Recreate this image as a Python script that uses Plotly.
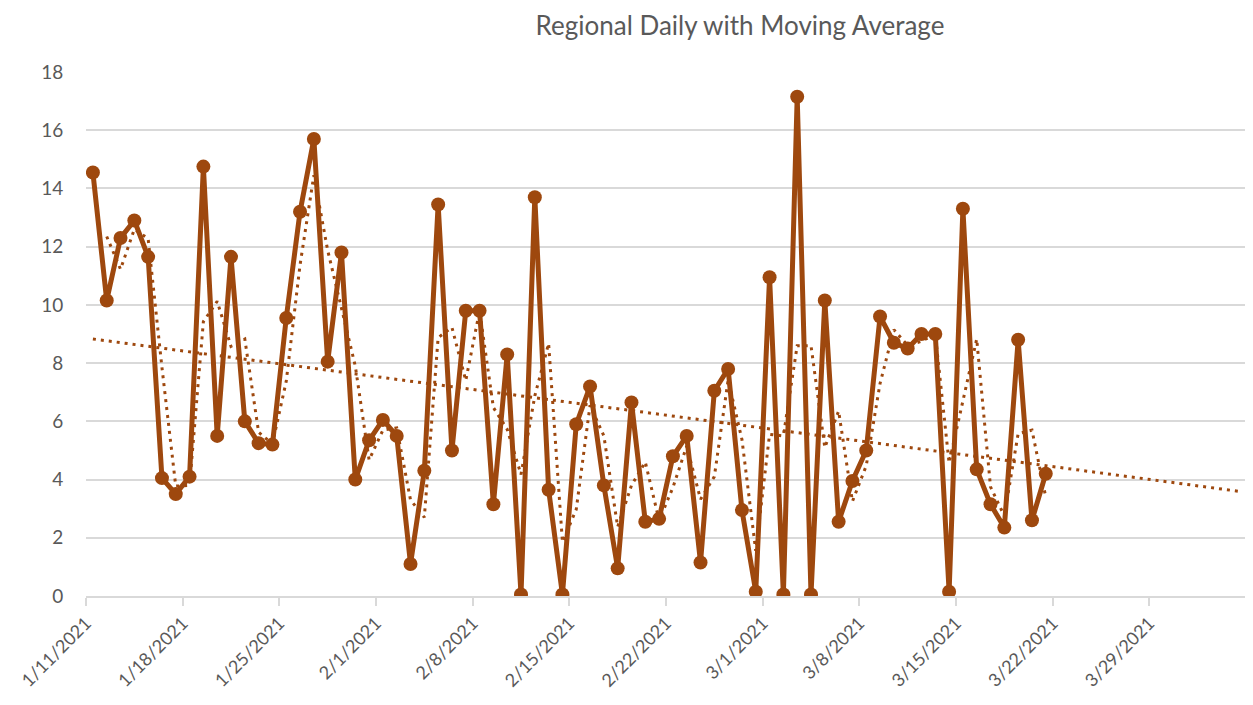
import numpy as np
import pandas as pd
import plotly.graph_objects as go

start_date = "2021-01-11"
values = [14.55, 10.15, 12.3, 12.9, 11.65, 4.05, 3.5, 4.1, 14.75, 5.5,
          11.65, 6.0, 5.25, 5.2, 9.55, 13.2, 15.7, 8.05, 11.8, 4.0,
          5.35, 6.05, 5.5, 1.1, 4.3, 13.45, 5.0, 9.8, 9.8, 3.15,
          8.3, 0.05, 13.7, 3.65, 0.05, 5.9, 7.2, 3.8, 0.95, 6.65,
          2.55, 2.65, 4.8, 5.5, 1.15, 7.05, 7.8, 2.95, 0.15, 10.95,
          0.05, 17.15, 0.05, 10.15, 2.55, 3.95, 5.0, 9.6, 8.7, 8.5,
          9.0, 9.0, 0.15, 13.3, 4.35, 3.15, 2.35, 8.8, 2.6, 4.2]
forecast_days = 14
tick_dates = ["2021-01-11", "2021-01-18", "2021-01-25", "2021-02-01", "2021-02-08",
              "2021-02-15", "2021-02-22", "2021-03-01", "2021-03-08", "2021-03-15",
              "2021-03-22", "2021-03-29"]
tick_labels = ["1/11/2021", "1/18/2021", "1/25/2021", "2/1/2021", "2/8/2021",
               "2/15/2021", "2/22/2021", "3/1/2021", "3/8/2021", "3/15/2021",
               "3/22/2021", "3/29/2021"]

color = "#9E480E"
dates = pd.date_range(start_date, periods=len(values), freq="D") + pd.Timedelta(hours=12)
vals = np.array(values)

# 2-period moving average
ma = pd.Series(vals).rolling(2).mean()

# linear trendline with forward forecast
idx = np.arange(len(vals))
slope, intercept = np.polyfit(idx, vals, 1)
t_idx = np.array([0, len(vals) - 1 + forecast_days])
t_dates = dates[0] + pd.to_timedelta(t_idx, unit="D")
t_vals = intercept + slope * t_idx

fig = go.Figure()
fig.add_trace(go.Scatter(x=t_dates, y=t_vals, mode="lines",
                         line=dict(color=color, width=3, dash="3px,5px"), showlegend=False))
fig.add_trace(go.Scatter(x=dates[1:], y=ma[1:], mode="lines",
                         line=dict(color=color, width=3, dash="3px,5px"), showlegend=False))
fig.add_trace(go.Scatter(x=dates, y=vals, mode="lines+markers",
                         line=dict(color=color, width=5),
                         marker=dict(color=color, size=14), showlegend=False))

fig.update_layout(
    width=1253, height=705,
    paper_bgcolor="white", plot_bgcolor="white",
    margin=dict(l=78, r=15, t=64, b=117),
    font=dict(family="Lato, Open Sans, sans-serif", color="#595959"),
    title=dict(text="Regional Daily with Moving Average", x=0.5842, xref="container",
               xanchor="center", y=0.975, yref="container", yanchor="middle",
               font=dict(size=26, color="#595959")),
)
fig.update_xaxes(range=["2021-01-11", "2021-04-05"], tickmode="array",
                 tickvals=pd.to_datetime(tick_dates), ticktext=tick_labels,
                 tickangle=-45, tickfont=dict(size=18, color="#595959"),
                 showgrid=False, showline=True, linecolor="#D9D9D9", linewidth=1.5,
                 ticks="outside", ticklen=8, tickcolor="#D9D9D9", tickwidth=1.5,
                 zeroline=False, automargin=False)
fig.update_yaxes(range=[0, 18], dtick=2, showgrid=True, gridcolor="#D9D9D9", gridwidth=1.5,
                 zeroline=False, showline=False, tickfont=dict(size=19, color="#595959"),
                 ticks="outside", ticklen=18, tickcolor="white", automargin=False)

fig.write_html("out.html")
